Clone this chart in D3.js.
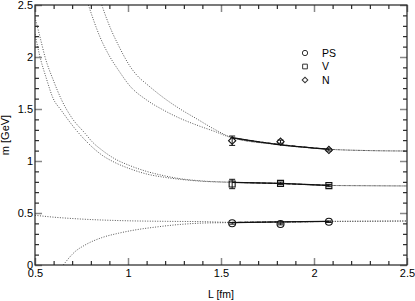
<!DOCTYPE html>
<html>
<head>
<meta charset="utf-8">
<script src="https://cdn.jsdelivr.net/npm/d3@7"></script>
<style>
  body { margin: 0; background: #fff; }
  svg { display: block; font-family: "Liberation Sans", Arial, sans-serif; }
</style>
</head>
<body>
<svg id="chart" width="415" height="301"></svg>
<script>
// box sizes L [fm] and masses m [GeV]
var L_data = [1.56, 1.82, 2.08];
var ps_m = [0.401, 0.394, 0.416], ps_err = [0.008, 0.008, 0.007];
var v_m  = [0.779, 0.785, 0.763], v_err  = [0.045, 0.012, 0.010];
var n_m  = [1.195, 1.186, 1.106], n_err  = [0.045, 0.015, 0.010];

// fit curves (two per channel)
var psA_L = [0.5, 0.6, 0.7, 0.8, 0.9, 1.0, 1.2, 1.4, 1.56, 1.82, 2.08, 2.3, 2.5];
var psA_m = [0.478, 0.46, 0.447, 0.437, 0.43, 0.425, 0.42, 0.417, 0.41, 0.414, 0.419, 0.421, 0.423];
var psB_L = [0.652, 0.715, 0.769, 0.859, 0.948, 1.038, 1.15, 1.28, 1.4, 1.56, 1.82, 2.08, 2.3, 2.5];
var psB_m = [0.0, 0.128, 0.192, 0.263, 0.305, 0.337, 0.365, 0.39, 0.403, 0.408, 0.414, 0.419, 0.421, 0.423];

var vA_L = [0.5, 0.527, 0.56, 0.598, 0.64, 0.679, 0.72, 0.769, 0.81, 0.859, 0.93, 1.011, 1.1, 1.19, 1.28, 1.4, 1.56, 1.82, 2.08, 2.3, 2.5];
var vA_m = [2.22, 2.0, 1.8, 1.6, 1.49, 1.394, 1.3, 1.202, 1.13, 1.058, 0.985, 0.925, 0.875, 0.845, 0.824, 0.805, 0.795, 0.783, 0.765, 0.762, 0.76];
var vB_L = [0.5, 0.53, 0.554, 0.6, 0.643, 0.7, 0.769, 0.81, 0.859, 0.93, 1.011, 1.1, 1.19, 1.28, 1.4, 1.56, 1.82, 2.08, 2.3, 2.5];
var vB_m = [2.38, 2.17, 2.0, 1.77, 1.587, 1.41, 1.266, 1.18, 1.106, 1.02, 0.955, 0.9, 0.86, 0.83, 0.808, 0.795, 0.784, 0.765, 0.762, 0.76];

var nA_L = [0.787, 0.85, 0.9, 0.95, 1.011, 1.1, 1.19, 1.28, 1.37, 1.46, 1.56, 1.82, 2.08, 2.3, 2.5];
var nA_m = [2.5, 2.19, 2.01, 1.87, 1.72, 1.587, 1.49, 1.41, 1.345, 1.288, 1.222, 1.158, 1.113, 1.1, 1.096];
var nB_L = [0.859, 0.885, 0.912, 0.948, 0.975, 1.011, 1.05, 1.1, 1.19, 1.28, 1.37, 1.46, 1.56, 1.82, 2.08, 2.3, 2.5];
var nB_m = [2.5, 2.37, 2.25, 2.115, 2.02, 1.91, 1.82, 1.74, 1.61, 1.5, 1.405, 1.31, 1.225, 1.155, 1.113, 1.1, 1.096];

var legend_labels = ["PS", "V", "N"];
var x_ticks = [0.5, 1, 1.5, 2, 2.5];
var y_ticks = [0, 0.5, 1, 1.5, 2, 2.5];

var svg = d3.select("#chart");
var padL = 35, padR = 407, padT = 5, padB = 265;

var x = d3.scaleLinear().domain([0.5, 2.5]).range([padL, padR]);
var y = d3.scaleLinear().domain([0, 2.5]).range([padB, padT]);

svg.append("clipPath").attr("id", "clip")
  .append("rect").attr("x", padL).attr("y", padT)
  .attr("width", padR - padL).attr("height", padB - padT);

function pairs(Ls, ms) { return Ls.map(function(l, i) { return [l, ms[i]]; }); }

var line = d3.line()
  .x(function(d) { return x(d[0]); })
  .y(function(d) { return y(d[1]); })
  .curve(d3.curveMonotoneX);

var curves = [
  pairs(psA_L, psA_m), pairs(psB_L, psB_m),
  pairs(vA_L, vA_m), pairs(vB_L, vB_m),
  pairs(nA_L, nA_m), pairs(nB_L, nB_m)
];

var g = svg.append("g").attr("clip-path", "url(#clip)");

// dotted fit curves over the whole range
g.selectAll("path.fit")
  .data(curves)
  .enter().append("path")
    .attr("class", "fit")
    .attr("d", line)
    .attr("fill", "none")
    .attr("stroke", "#555")
    .attr("stroke-width", 1)
    .attr("stroke-dasharray", "1,1.5");

// solid/dashed parts over the fitted window
var lo = L_data[0], hi = L_data[L_data.length - 1];
g.selectAll("path.win")
  .data(curves)
  .enter().append("path")
    .attr("class", "win")
    .attr("d", function(d) { return line(d.filter(function(p) { return p[0] >= lo - 1e-6 && p[0] <= hi + 1e-6; })); })
    .attr("fill", "none")
    .attr("stroke", "#111")
    .attr("stroke-width", function(d, i) { return i % 2 ? 1.2 : 1; })
    .attr("stroke-dasharray", function(d, i) { return i % 2 ? null : "4,2"; });

// axes: ticks pointing inward on all four sides
function frameAxis(axis, tr, vals, size, labels, col, w) {
  var a = svg.append("g").attr("transform", tr)
    .call(axis.tickValues(vals).tickSizeInner(size).tickSizeOuter(0).tickPadding(3)
      .tickFormat(labels ? d3.format("") : function() { return ""; }));
  a.select(".domain").remove();
  a.selectAll(".tick line").attr("stroke", col).attr("stroke-width", w);
  a.selectAll("text").attr("font-size", 11).attr("fill", "#000")
    .attr("font-family", "Liberation Sans, Arial, sans-serif");
  return a;
}

var x_minor = d3.range(0.6, 2.45, 0.1).filter(function(v) { return Math.abs(v * 2 - Math.round(v * 2)) > 1e-6; });
var y_minor = d3.range(0.1, 2.45, 0.1).filter(function(v) { return Math.abs(v * 2 - Math.round(v * 2)) > 1e-6; });

frameAxis(d3.axisBottom(x), "translate(0," + padB + ")", x_minor, -4, false, "#000", 1);
frameAxis(d3.axisTop(x), "translate(0," + padT + ")", x_minor, -4, false, "#000", 1);
frameAxis(d3.axisLeft(y), "translate(" + padL + ",0)", y_minor, -4, false, "#000", 1);
frameAxis(d3.axisRight(y), "translate(" + padR + ",0)", y_minor, -4, false, "#000", 1);

var xb = frameAxis(d3.axisBottom(x), "translate(0," + padB + ")", x_ticks, -7, true, "#888", 1.5);
frameAxis(d3.axisTop(x), "translate(0," + padT + ")", x_ticks, -7, false, "#888", 1.5);
var yl = frameAxis(d3.axisLeft(y), "translate(" + padL + ",0)", y_ticks, -7, true, "#888", 1.5);
frameAxis(d3.axisRight(y), "translate(" + padR + ",0)", y_ticks, -7, false, "#888", 1.5);
xb.selectAll("text").attr("dy", "0.85em");
yl.selectAll("text").attr("dx", "1px");

svg.append("rect")
  .attr("x", padL).attr("y", padT)
  .attr("width", padR - padL).attr("height", padB - padT)
  .attr("fill", "none").attr("stroke", "#222").attr("stroke-width", 1.2);

// axis titles
svg.append("text")
  .attr("x", (padL + padR) / 2).attr("y", 298)
  .attr("text-anchor", "middle").attr("font-size", 10.5)
  .text("L [fm]");
svg.append("text")
  .attr("transform", "translate(9,135) rotate(-90)")
  .attr("text-anchor", "middle").attr("font-size", 11)
  .text("m [GeV]");

// markers
var sym = [
  d3.symbol().type(d3.symbolCircle).size(38),
  d3.symbol().type(d3.symbolSquare).size(36),
  d3.symbol().type(d3.symbolSquare).size(26)
];
var rot = [0, 0, 45];

var sets = [
  { m: ps_m, e: ps_err },
  { m: v_m, e: v_err },
  { m: n_m, e: n_err }
];

sets.forEach(function(s, k) {
  var pts = L_data.map(function(l, i) { return { L: l, m: s.m[i], e: s.e[i] }; });
  var pg = svg.append("g");
  var eb = pg.selectAll("g.err").data(pts).enter().append("g")
    .attr("stroke", "#111").attr("stroke-width", 1);
  eb.append("line")
    .attr("x1", function(d) { return x(d.L); }).attr("x2", function(d) { return x(d.L); })
    .attr("y1", function(d) { return y(d.m - d.e); }).attr("y2", function(d) { return y(d.m + d.e); });
  eb.append("line")
    .attr("x1", function(d) { return x(d.L) - 3; }).attr("x2", function(d) { return x(d.L) + 3; })
    .attr("y1", function(d) { return y(d.m - d.e); }).attr("y2", function(d) { return y(d.m - d.e); });
  eb.append("line")
    .attr("x1", function(d) { return x(d.L) - 3; }).attr("x2", function(d) { return x(d.L) + 3; })
    .attr("y1", function(d) { return y(d.m + d.e); }).attr("y2", function(d) { return y(d.m + d.e); });
  pg.selectAll("path.pt").data(pts).enter().append("path")
    .attr("d", sym[k])
    .attr("transform", function(d) { return "translate(" + x(d.L) + "," + y(d.m) + ") rotate(" + rot[k] + ")"; })
    .attr("fill", "none").attr("stroke", "#111").attr("stroke-width", 1.1);
});

// legend
var leg = svg.append("g").attr("transform", "translate(305,53)");
legend_labels.forEach(function(lab, k) {
  leg.append("path")
    .attr("d", d3.symbol().type(k === 0 ? d3.symbolCircle : d3.symbolSquare).size(k === 2 ? 16 : 22)())
    .attr("transform", "translate(0," + (k * 13.5) + ") rotate(" + rot[k] + ")")
    .attr("fill", "none").attr("stroke", "#333").attr("stroke-width", 1);
  leg.append("text")
    .attr("x", 17).attr("y", k * 13.5).attr("dy", "0.35em")
    .attr("font-size", 10.5)
    .text(lab);
});
</script>
</body>
</html>
